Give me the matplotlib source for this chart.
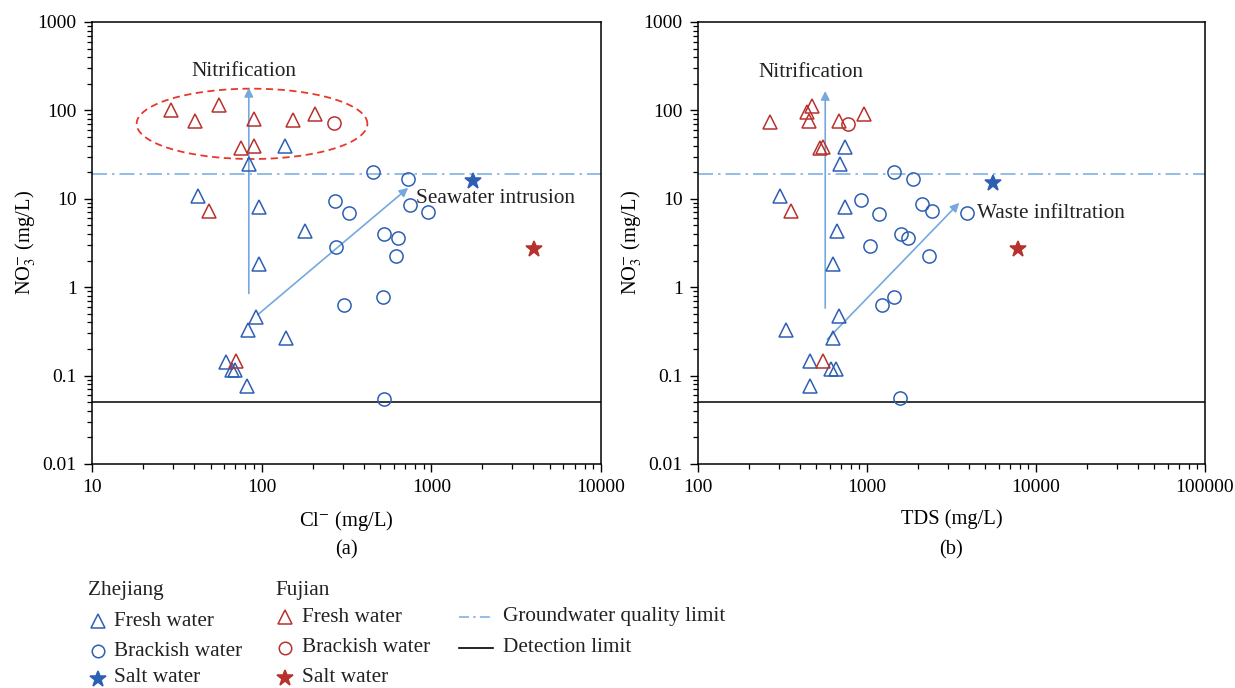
import numpy as np
import matplotlib
matplotlib.use('Agg')
import matplotlib.pyplot as plt
from matplotlib.lines import Line2D
from matplotlib.ticker import LogLocator, NullFormatter, FuncFormatter

plt.rcParams['font.family'] = ['Liberation Serif', 'DejaVu Serif']
plt.rcParams['mathtext.fontset'] = 'stix'

BLUE = '#2d5fb3'
RED = '#b8322d'
ARROW = '#75a9de'
LIMIT = '#7fb2e3'
ELL = '#e8382c'

# ---------------- data: panel (a) Cl- vs NO3- ----------------
zj_fresh_cl = [84.5, 137, 42, 96, 180, 96, 92, 83, 139, 62, 67, 70, 81.5]
zj_fresh_no3_a = [24.5, 39.4, 10.7, 8.05, 4.3, 1.83, 0.466, 0.329, 0.264, 0.144, 0.116, 0.116, 0.076]
zj_brack_cl = [456, 731, 269, 327, 752, 959, 527, 636, 274, 618, 304, 522, 523]
zj_brack_no3_a = [20.1, 16.6, 9.4, 6.9, 8.6, 7.1, 3.97, 3.58, 2.88, 2.25, 0.63, 0.766, 0.055]
zj_salt_cl = [1762]
zj_salt_no3_a = [16.1]
fj_fresh_cl = [29.3, 40.4, 56.4, 90, 154, 205, 75.5, 90, 49, 70.8]
fj_fresh_no3_a = [100, 75.6, 114, 80.4, 77.6, 91.6, 37.7, 39.4, 7.37, 0.148]
fj_brack_cl = [268]
fj_brack_no3_a = [72.4]
fj_salt_cl = [4047]
fj_salt_no3_a = [2.7]

# ---------------- data: panel (b) TDS vs NO3- ----------------
zj_fresh_tds = [689, 738, 307, 738, 662, 630, 680, 331, 630, 457, 609, 659, 463]
zj_fresh_no3_b = [24.8, 38.4, 10.7, 8.0, 4.33, 1.82, 0.469, 0.332, 0.264, 0.145, 0.118, 0.118, 0.077]
zj_brack_tds = [1452, 1862, 916, 1172, 2104, 2426, 3921, 1592, 1753, 1045, 2317, 1222, 1452, 1570]
zj_brack_no3_b = [20.3, 16.7, 9.6, 6.8, 8.8, 7.2, 6.9, 3.96, 3.57, 2.91, 2.25, 0.632, 0.774, 0.0553]
zj_salt_tds = [5598]
zj_salt_no3_b = [15.0]
fj_fresh_tds = [267, 470, 443, 455, 687, 962, 524, 547, 353, 551]
fj_fresh_no3_b = [73.5, 112, 96.6, 76.8, 75.5, 90, 37.4, 38.5, 7.2, 0.148]
fj_brack_tds = [776]
fj_brack_no3_b = [70.4]
fj_salt_tds = [7870]
fj_salt_no3_b = [2.74]

quality_limit = 19
detection_limit = 0.05

W, H = 1235, 688
FS = 15.3
fig = plt.figure(figsize=(W / 100, H / 100), dpi=100)
axA = fig.add_axes([92 / W, 1 - 464 / H, 509 / W, 442 / H])
axB = fig.add_axes([698 / W, 1 - 464 / H, 507 / W, 442 / H])

fmt = FuncFormatter(lambda v, p: f'{v:g}')


def style(ax, xlim, xlabel):
    ax.set_xscale('log')
    ax.set_yscale('log')
    ax.set_xlim(*xlim)
    ax.set_ylim(0.01, 1000)
    for a in (ax.xaxis, ax.yaxis):
        a.set_major_locator(LogLocator(base=10, numticks=10))
        a.set_minor_locator(LogLocator(base=10, subs=np.arange(2, 10), numticks=20))
        a.set_major_formatter(fmt)
        a.set_minor_formatter(NullFormatter())
    ax.tick_params(which='major', direction='out', length=6, width=1.0, labelsize=14, pad=5)
    ax.tick_params(which='minor', direction='out', length=3.5, width=0.9)
    ax.tick_params(top=False, right=False)
    for s in ax.spines.values():
        s.set_linewidth(1.1)
    ax.set_xlabel(xlabel, fontsize=14.8, labelpad=9)
    ax.set_ylabel(r'NO$_3^{-}$ (mg/L)', fontsize=14.8, labelpad=0)
    ax.axhline(quality_limit, color=LIMIT, lw=1.2, ls=(0, (9, 3, 1.5, 3)), zorder=1)
    ax.axhline(detection_limit, color='black', lw=1.1, zorder=1)


def points(ax, x, y, marker, color, ms, filled=False):
    ax.plot(x, y, ls='none', marker=marker, ms=ms, mew=1.1, mec=color,
            mfc=color if filled else 'none', zorder=4)


def arrow(ax, start, end):
    ax.annotate('', xy=end, xytext=start,
                arrowprops=dict(arrowstyle='-|>', color=ARROW, lw=1.2,
                                mutation_scale=13, shrinkA=0, shrinkB=0),
                zorder=3)


# ---- panel (a)
style(axA, (10, 10000), r'Cl$^{-}$ (mg/L)')
t = np.linspace(0, 2 * np.pi, 300)
axA.plot(10 ** (1.943 + 0.68 * np.cos(t)), 10 ** (1.848 + 0.398 * np.sin(t)),
         color=ELL, lw=1.3, ls=(0, (4, 2.5)), zorder=2)
arrow(axA, (84, 0.85), (84, 180))
arrow(axA, (95, 0.49), (731, 13.3))
points(axA, zj_fresh_cl, zj_fresh_no3_a, '^', BLUE, 10.5)
points(axA, zj_brack_cl, zj_brack_no3_a, 'o', BLUE, 9.5)
points(axA, zj_salt_cl, zj_salt_no3_a, '*', BLUE, 12, True)
points(axA, fj_fresh_cl, fj_fresh_no3_a, '^', RED, 10.5)
points(axA, fj_brack_cl, fj_brack_no3_a, 'o', RED, 9.5)
points(axA, fj_salt_cl, fj_salt_no3_a, '*', RED, 12, True)
axA.text(79, 275, 'Nitrification', fontsize=FS, ha='center', va='center', color='#222222')
axA.text(812, 10.0, 'Seawater intrusion', fontsize=FS, ha='left', va='center', color='#222222')

# ---- panel (b)
style(axB, (100, 100000), 'TDS (mg/L)')
arrow(axB, (566, 0.58), (566, 166))
arrow(axB, (582, 0.257), (3517, 9.0))
points(axB, zj_fresh_tds, zj_fresh_no3_b, '^', BLUE, 10.5)
points(axB, zj_brack_tds, zj_brack_no3_b, 'o', BLUE, 9.5)
points(axB, zj_salt_tds, zj_salt_no3_b, '*', BLUE, 12, True)
points(axB, fj_fresh_tds, fj_fresh_no3_b, '^', RED, 10.5)
points(axB, fj_brack_tds, fj_brack_no3_b, 'o', RED, 9.5)
points(axB, fj_salt_tds, fj_salt_no3_b, '*', RED, 12, True)
axB.text(468, 270, 'Nitrification', fontsize=FS, ha='center', va='center', color='#222222')
axB.text(4457, 6.9, 'Waste infiltration', fontsize=FS, ha='left', va='center', color='#222222')

fig.text(346 / W, 1 - 550 / H, '(a)', fontsize=14.8, ha='center', va='center')
fig.text(951 / W, 1 - 550 / H, '(b)', fontsize=14.8, ha='center', va='center')


# ---- legend
def ftxt(px, py, s):
    fig.text(px / W, 1 - py / H, s, fontsize=FS, ha='left', va='center', color='#222222')


def fmark(px, py, marker, color, ms, filled=False):
    fig.add_artist(Line2D([px / W], [1 - py / H], transform=fig.transFigure, ls='none',
                          marker=marker, ms=ms, mew=1.1, mec=color,
                          mfc=color if filled else 'none'))


def fline(px0, px1, py, color, ls):
    fig.add_artist(Line2D([px0 / W, px1 / W], [1 - py / H] * 2, transform=fig.transFigure,
                          color=color, ls=ls, lw=1.2))


ftxt(88, 591, 'Zhejiang')
fmark(98, 621, '^', BLUE, 10)
ftxt(114, 621, 'Fresh water')
fmark(98, 651, 'o', BLUE, 9)
ftxt(114, 651, 'Brackish water')
fmark(98, 679, '*', BLUE, 12, True)
ftxt(114, 678, 'Salt water')

ftxt(275, 590, 'Fujian')
fmark(285, 617, '^', RED, 10)
ftxt(302, 617, 'Fresh water')
fmark(285, 648, 'o', RED, 9)
ftxt(302, 648, 'Brackish water')
fmark(285, 678, '*', RED, 12, True)
ftxt(302, 677, 'Salt water')

fline(459, 493, 617, LIMIT, (0, (6, 2.5, 1.5, 2.5)))
ftxt(503, 617, 'Groundwater quality limit')
fline(459, 493, 648, 'black', '-')
ftxt(503, 648, 'Detection limit')

fig.savefig('out.png', dpi=100)
